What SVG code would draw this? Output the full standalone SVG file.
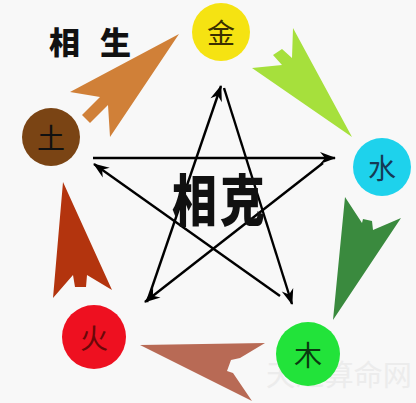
<svg xmlns="http://www.w3.org/2000/svg" width="416" height="403" viewBox="0 0 416 403">
<defs>
<style>
.el{font-family:"Noto Sans CJK SC","Noto Sans CJK TC",sans-serif;font-size:28px;text-anchor:middle;dominant-baseline:central}
.k{stroke:#000;stroke-width:2.4;fill:none;marker-end:url(#ah)}
.title{font-family:"Noto Sans CJK SC",sans-serif;font-weight:900;fill:#111}
</style>
<marker id="ah" viewBox="-16 -7 18 14" refX="0" refY="0" markerWidth="18" markerHeight="14" markerUnits="userSpaceOnUse" orient="auto">
<path d="M1,0 L-15,-6 L-10,0 L-15,6 Z" fill="#000"/>
</marker>
</defs>
<rect width="416" height="403" fill="#f8f8f8"/>
<text x="266" y="386" font-family="Noto Sans CJK SC,sans-serif" font-size="29" fill="#ececec" textLength="146" lengthAdjust="spacingAndGlyphs">天之算命网</text>
<g id="sheng-arrows">
<polygon id="a-tu-jin" points="179,34 70,92 100,97 82,115 90,123 108,105 110,137" fill="#d08038"/>
<polygon id="a-jin-shui" points="352,137 293,28 292,58 282,49 273,55 282,65 252,68" fill="#a6e03c"/>
<polygon id="a-shui-mu" points="333,320 345,197 362,223 363,219 372,221 373,230 401,218" fill="#3a8a3e"/>
<polygon id="a-mu-huo" points="140,345 265,343 240,358 231,360 227,371 233,373 252,401" fill="#b86a55"/>
<polygon id="a-huo-tu" points="63,182 112,290 87,275 86,287 75,287 73,275 53,298" fill="#b3340e"/>
</g>
<g id="connectors">
<line class="k" x1="147" y1="302" x2="221" y2="86"/>
<line class="k" x1="224" y1="88" x2="292" y2="304"/>
<line class="k" x1="93" y1="158" x2="335" y2="158"/>
<line class="k" x1="323" y1="163" x2="145" y2="302"/>
<line class="k" x1="280" y1="296" x2="94" y2="164"/>
</g>
<text x="49" y="54" class="title" font-size="31" letter-spacing="20">相生</text>
<text x="220" y="221" class="title" font-size="56" text-anchor="middle" transform="translate(220 0) scale(0.8 1) translate(-220 0)" letter-spacing="4">相克</text>
<g id="jin"><circle cx="221" cy="32" r="29" fill="#f5e312"/><text x="221" y="32" class="el" fill="#3a3000">金</text></g>
<g id="shui"><circle cx="382" cy="167" r="29" fill="#1ed2ec"/><text x="382" y="167" class="el" fill="#153a55">水</text></g>
<g id="mu"><circle cx="308" cy="354" r="32" fill="#22e33a"/><text x="308" y="354" class="el" fill="#0a3a10">木</text></g>
<g id="huo"><circle cx="94" cy="337" r="32" fill="#ee1020"/><text x="94" y="337" class="el" fill="#6a0808">火</text></g>
<g id="tu"><circle cx="51" cy="137" r="29" fill="#7a4414"/><text x="51" y="137" class="el" fill="#111">土</text></g>
</svg>
